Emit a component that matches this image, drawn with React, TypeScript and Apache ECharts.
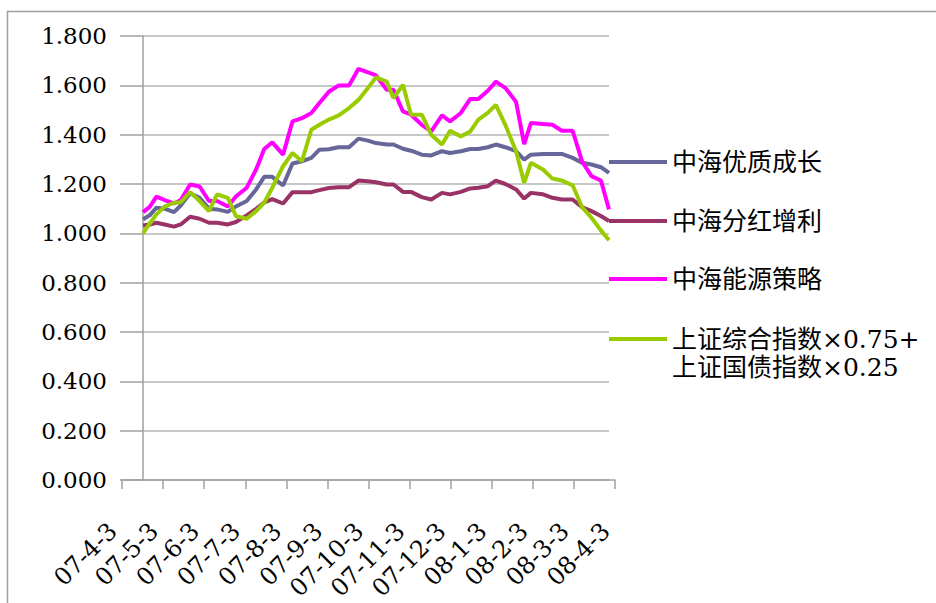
import React, { useEffect, useRef } from 'react';
import * as echarts from 'echarts';

const dates = [
  '2007-04-19', '2007-04-24', '2007-04-29', '2007-05-05', '2007-05-12', '2007-05-17', '2007-05-24', '2007-05-31',
  '2007-06-07', '2007-06-13', '2007-06-21', '2007-06-27', '2007-07-05', '2007-07-12', '2007-07-18', '2007-07-24',
  '2007-08-01', '2007-08-08', '2007-08-15', '2007-08-22', '2007-08-28', '2007-09-04', '2007-09-11', '2007-09-19',
  '2007-09-26', '2007-10-03', '2007-10-09', '2007-10-17', '2007-10-22', '2007-10-29', '2007-11-04', '2007-11-12',
  '2007-11-19', '2007-11-27', '2007-12-03', '2007-12-11', '2007-12-18', '2007-12-24', '2007-12-31', '2008-01-06',
  '2008-01-13', '2008-01-21', '2008-01-27', '2008-02-01', '2008-02-10', '2008-02-17', '2008-02-24', '2008-03-03',
  '2008-03-10', '2008-03-17', '2008-03-24', '2008-03-30',
];

const xLabels = ['07-4-3', '07-5-3', '07-6-3', '07-7-3', '07-8-3', '07-9-3', '07-10-3', '07-11-3', '07-12-3', '08-1-3', '08-2-3', '08-3-3', '08-4-3'];

const growth = [
  1.057, 1.073, 1.104, 1.100, 1.086, 1.113, 1.162, 1.144, 1.100, 1.097, 1.087, 1.109, 1.131, 1.178, 1.229, 1.229,
  1.194, 1.283, 1.292, 1.306, 1.339, 1.341, 1.349, 1.349, 1.384, 1.376, 1.366, 1.360, 1.360, 1.343, 1.335, 1.319,
  1.316, 1.333, 1.326, 1.333, 1.342, 1.342, 1.349, 1.360, 1.349, 1.333, 1.299, 1.319, 1.322, 1.322, 1.322, 1.306,
  1.286, 1.279, 1.268, 1.245,
];

const dividend = [
  1.032, 1.036, 1.043, 1.036, 1.027, 1.036, 1.067, 1.059, 1.043, 1.043, 1.036, 1.046, 1.073, 1.099, 1.125, 1.139,
  1.121, 1.167, 1.167, 1.167, 1.175, 1.184, 1.187, 1.187, 1.214, 1.211, 1.207, 1.198, 1.198, 1.168, 1.168, 1.147,
  1.137, 1.164, 1.158, 1.168, 1.182, 1.185, 1.191, 1.214, 1.200, 1.178, 1.141, 1.164, 1.158, 1.144, 1.137, 1.137,
  1.106, 1.090, 1.070, 1.050,
];

const energy = [
  1.086, 1.107, 1.149, 1.135, 1.121, 1.135, 1.198, 1.190, 1.131, 1.131, 1.109, 1.149, 1.185, 1.259, 1.342, 1.369,
  1.319, 1.454, 1.467, 1.488, 1.528, 1.574, 1.599, 1.599, 1.667, 1.653, 1.640, 1.582, 1.582, 1.494, 1.481, 1.440,
  1.413, 1.478, 1.454, 1.488, 1.545, 1.545, 1.578, 1.615, 1.590, 1.533, 1.362, 1.447, 1.443, 1.440, 1.416, 1.416,
  1.292, 1.232, 1.214, 1.097,
];

const benchmark = [
  1.000, 1.040, 1.077, 1.108, 1.124, 1.126, 1.167, 1.131, 1.090, 1.158, 1.144, 1.070, 1.059, 1.090, 1.124, 1.185,
  1.272, 1.326, 1.292, 1.420, 1.440, 1.461, 1.477, 1.508, 1.541, 1.589, 1.632, 1.615, 1.548, 1.602, 1.481, 1.481,
  1.400, 1.360, 1.416, 1.393, 1.413, 1.461, 1.488, 1.521, 1.440, 1.333, 1.205, 1.286, 1.259, 1.222, 1.214, 1.195,
  1.106, 1.063, 1.012, 0.972,
];

const seriesNames = ['中海优质成长', '中海分红增利', '中海能源策略', '上证综合指数×0.75+\n上证国债指数×0.25'];
const seriesValues = [growth, dividend, energy, benchmark];
const seriesColors = ['#666699', '#993366', '#FF00FF', '#99CC00'];

export default function App() {
  const ref = useRef<HTMLDivElement>(null);
  useEffect(() => {
    const chart = echarts.init(ref.current as HTMLDivElement, null, { renderer: 'svg' });
    const font = '"DejaVu Serif", "Noto Sans CJK SC", serif';
    const axisGray = '#a0a0a0';
    const legendTops = [148, 207, 265, 325];
    const legends = seriesNames.map((name, i) => ({
      data: [name],
      orient: 'vertical',
      left: 609,
      top: legendTops[i],
      padding: 0,
      itemWidth: 58,
      itemHeight: i === 3 ? 32 : 4,
      icon: i === 3 ? 'path://M0,0H58V4H0Z M0,31.99H0.01V32H0Z' : 'rect',
      textStyle: { fontSize: 25, lineHeight: 28, color: '#000', fontFamily: font },
    }));
    chart.setOption({
      animation: false,
      backgroundColor: '#ffffff',
      graphic: [
        {
          type: 'rect',
          silent: true,
          shape: { x: 7.5, y: 11.5, width: 940, height: 600 },
          style: { fill: 'none', stroke: axisGray, lineWidth: 1.5 },
        },
      ],
      grid: [
        { left: 143, top: 36, width: 466, height: 444 },
        { left: 122, top: 36, width: 493, height: 444 },
        { left: 113, top: 36, width: 493, height: 444 },
      ],
      xAxis: [
        { type: 'time', gridIndex: 0, min: dates[0], max: dates[dates.length - 1], show: false },
        {
          type: 'category',
          gridIndex: 1,
          data: xLabels,
          boundaryGap: false,
          axisLine: { show: true, lineStyle: { color: axisGray, width: 1.5 } },
          axisTick: { show: true, length: 9, interval: 0, lineStyle: { color: axisGray, width: 1.5 } },
          axisLabel: { show: false },
          splitLine: { show: false },
        },
        {
          type: 'category',
          gridIndex: 2,
          data: xLabels,
          boundaryGap: false,
          axisLine: { show: false },
          axisTick: { show: false },
          splitLine: { show: false },
          axisLabel: { interval: 0, rotate: 45, margin: 54, fontSize: 24, fontFamily: font, color: '#000' },
        },
      ],
      yAxis: [
        {
          type: 'value',
          gridIndex: 0,
          min: 0,
          max: 1.8,
          interval: 0.2,
          axisLine: { show: true, lineStyle: { color: axisGray, width: 1.5 } },
          axisTick: { show: true, length: 23, lineStyle: { color: axisGray, width: 1.5 } },
          splitLine: { show: true, lineStyle: { color: '#b4b4b4', width: 1.5 } },
          axisLabel: {
            formatter: (v: number) => v.toFixed(3),
            margin: 36,
            fontSize: 23,
            fontFamily: font,
            color: '#000',
          },
        },
        { type: 'value', gridIndex: 1, show: false },
        { type: 'value', gridIndex: 2, show: false },
      ],
      legend: legends,
      series: seriesNames.map((name, i) => ({
        name,
        type: 'line',
        xAxisIndex: 0,
        yAxisIndex: 0,
        symbol: 'none',
        color: seriesColors[i],
        lineStyle: { width: 4, color: seriesColors[i] },
        data: dates.map((d, k) => [d, seriesValues[i][k]]),
      })),
    });
    return () => chart.dispose();
  }, []);
  return <div ref={ref} style={{ position: 'fixed', left: 0, top: 0, width: 936, height: 603 }} />;
}
